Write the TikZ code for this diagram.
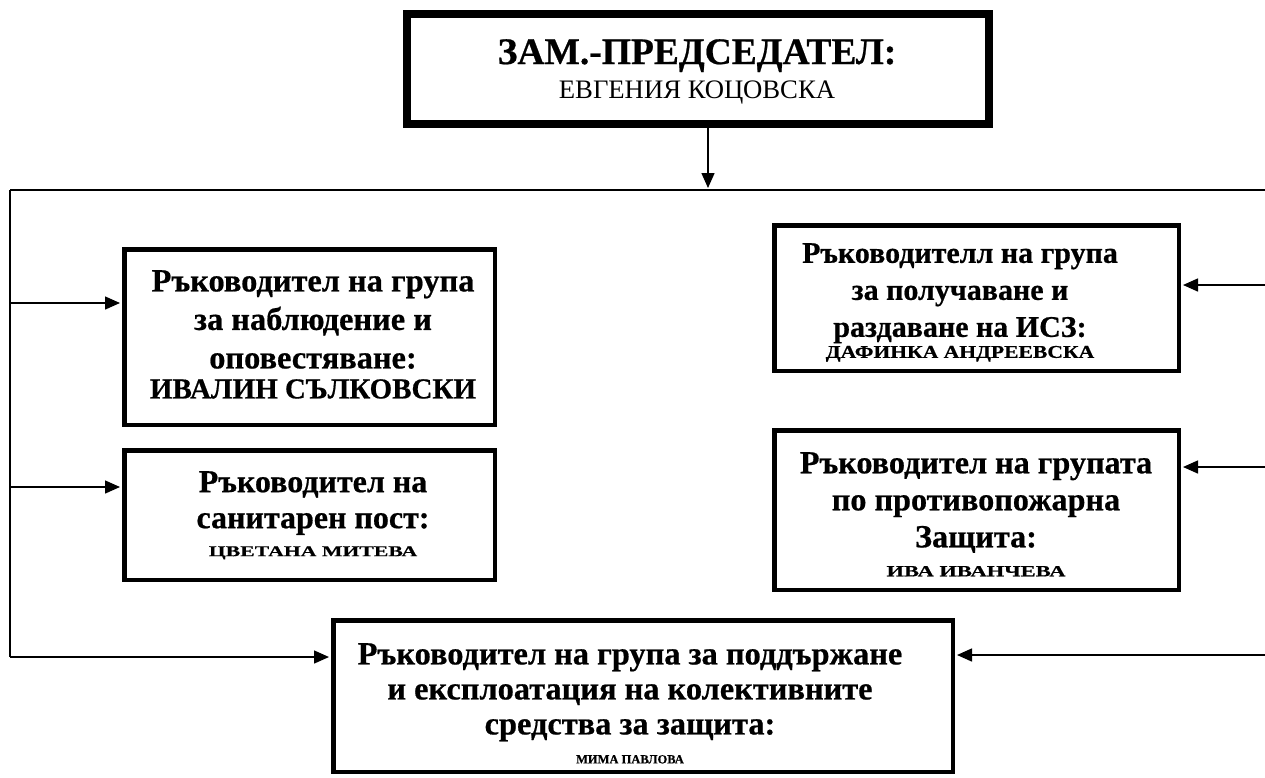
\documentclass[tikz,border=0pt]{standalone}
\usepackage{fontspec}
\setmainfont{Liberation Serif}[BoldFeatures={FakeBold=0.6}]
\newfontfamily\widefont[FakeStretch=1.45,BoldFeatures={FakeBold=0.6}]{Liberation Serif}
\newfontfamily\midfont[FakeStretch=1.2,BoldFeatures={FakeBold=0.6}]{Liberation Serif}
\usetikzlibrary{arrows.meta}
\begin{document}
\begin{tikzpicture}[x=1pt,y=-1pt,
  box/.style={draw,line width=4.5pt,inner sep=0pt},
  topbox/.style={draw,line width=8pt,inner sep=0pt},
  txt/.style={anchor=north,inner sep=0pt,align=center,font=\bfseries\fontsize{32}{37}\selectfont},
  conn/.style={line width=1.5pt},
  arr/.style={conn,-{Triangle[length=15pt,width=13pt]},shorten >=2pt}]
\useasboundingbox (0,0) rectangle (1265,777);
% boxes
\node[topbox,minimum width=582pt,minimum height=110pt] (top) at (698,69) {};
\node[box,minimum width=370.5pt,minimum height=175.5pt] (L1) at (309.5,337) {};
\node[box,minimum width=370.5pt,minimum height=129.5pt] (L2) at (309.5,515) {};
\node[box,minimum width=404.5pt,minimum height=145.5pt] (R1) at (976.5,298) {};
\node[box,minimum width=404.5pt,minimum height=159.5pt] (R2) at (976.5,510) {};
\node[box,minimum width=619.5pt,minimum height=151.5pt] (B) at (643,696) {};
% texts
\node[txt,font=\bfseries\fontsize{37.5}{34}\selectfont] (topt) at (697,39)
  {ЗАМ.-ПРЕДСЕДАТЕЛ:\\{\mdseries\fontsize{26.7}{28}\selectfont ЕВГЕНИЯ КОЦОВСКА}};
\node[txt,font=\bfseries\fontsize{32.4}{38.5}\selectfont] (L1t) at (313,270)
  {Ръководител на група\\за наблюдение и\\оповестяване:\\[-8.5pt]{\fontsize{29}{30}\selectfont ИВАЛИН СЪЛКОВСКИ}};
\node[txt,font=\bfseries\fontsize{32}{36}\selectfont] (L2t) at (313,471)
  {Ръководител на\\санитарен пост:\\[-8pt]{\widefont\bfseries\fontsize{15}{16}\selectfont ЦВЕТАНА МИТЕВА}};
\node[txt,font=\bfseries\fontsize{30}{37}\selectfont] (R1t) at (960,243)
  {Ръководителл на група\\за получаване и\\раздаване на ИСЗ:\\[-16pt]{\midfont\bfseries\fontsize{18}{19}\selectfont ДАФИНКА АНДРЕЕВСКА}};
\node[txt,font=\bfseries\fontsize{32.2}{37}\selectfont] (R2t) at (976,452)
  {Ръководител на групата\\по противопожарна\\Защита:\\[-8pt]{\widefont\bfseries\fontsize{15.5}{16}\selectfont ИВА ИВАНЧЕВА}};
\node[txt,font=\bfseries\fontsize{32.4}{35}\selectfont] (Bt) at (630,643)
  {Ръководител на група за поддържане\\и експлоатация на колективните\\средства за защита:\\[-6pt]{\fontsize{12.5}{14}\selectfont МИМА ПАВЛОВА}};
% bus
\coordinate (busL) at (10,190);
\coordinate (busR) at (1265,190);
\coordinate (busT) at (708,190);
\coordinate (busLB) at (10,657);
\draw[conn] (busL) -- (busR);
\draw[conn] (busL) -- (busLB);
\draw[arr] (busT |- top.south) -- (busT);
% left arrows
\coordinate (l1) at (10,303);
\coordinate (l2) at (10,487);
\draw[arr] (l1) -- (l1 -| L1.west);
\draw[arr] (l2) -- (l2 -| L2.west);
\draw[arr] (busLB) -- (busLB -| B.west);
% right arrows
\coordinate (r1) at (1265,285);
\coordinate (r2) at (1265,467);
\coordinate (r3) at (1265,655);
\draw[arr] (r1) -- (r1 -| R1.east);
\draw[arr] (r2) -- (r2 -| R2.east);
\draw[arr] (r3) -- (r3 -| B.east);
\end{tikzpicture}
\end{document}
